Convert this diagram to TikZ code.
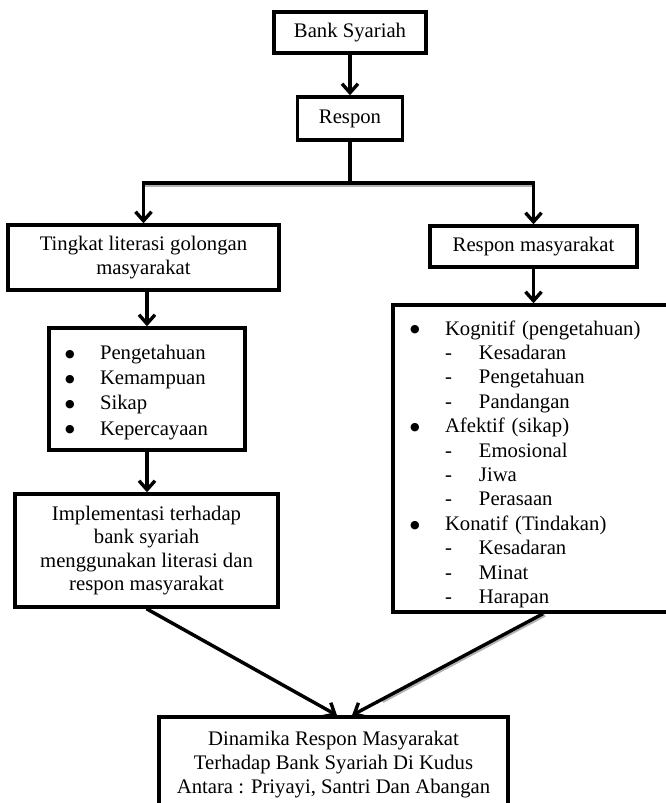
\documentclass[tikz,border=0pt]{standalone}
\usepackage{fontspec}
\setmainfont{Liberation Serif}
\newfontfamily\symfnt{DejaVu Sans}
\usetikzlibrary{arrows.meta,calc}
\newcommand\mybul{\makebox[34pt][l]{\hspace*{-1pt}\raisebox{2.3pt}{\symfnt\fontsize{11}{11}\selectfont ●}}}
\newcommand\mydash{\hspace*{34pt}\makebox[34pt][l]{-}}
\begin{document}
\begin{tikzpicture}[x=1pt,y=-1pt,
  box/.style={draw, line width=3.4pt, inner sep=0pt, align=center,
    font=\fontsize{20.7}{23.3}\selectfont},
  listbox/.style={box, align=left},
  conn/.style={line width=3.4pt, -{Straight Barb[length=9pt,width=16pt]}},
  plainline/.style={line width=3.4pt},
  shade/.style={line width=3pt, black!30}
]
\useasboundingbox (0,0) rectangle (666,803);
\clip (0,0) rectangle (666,803);

\node[box, minimum width=152pt, minimum height=41pt] (bank) at (350,32.5) {Bank Syariah};
\node[box, minimum width=105pt, minimum height=43pt] (respon) at (350,118.5) {Respon};
\node[box, minimum width=271pt, minimum height=65pt] (tingkat) at (143.5,257.5)
  {Tingkat literasi golongan\\masyarakat};
\node[box, minimum width=207pt, minimum height=41pt] (resmas) at (533.5,246.5) {Respon masyarakat};
\node[listbox, font=\fontsize{20.7}{25.3}\selectfont, text width=162pt, inner xsep=17pt,
  minimum height=122pt] (list) at (147,389)
  {\rule{0pt}{21pt}\mybul Pengetahuan\\
   \mybul Kemampuan\\
   \mybul Sikap\\
   \mybul Kepercayaan};
\node[box, minimum width=263pt, minimum height=113pt] (impl) at (146.5,550.5)
  {Implementasi terhadap\\bank syariah\\menggunakan literasi dan\\respon masyarakat};
\node[listbox, font=\fontsize{20.7}{24.4}\selectfont, text width=256pt, inner xsep=18pt,
  minimum height=307pt] (big) at (539,458.5)
  {\rule{0pt}{26pt}\mybul Kognitif (pengetahuan)\\
   \mydash Kesadaran\\
   \mydash Pengetahuan\\
   \mydash Pandangan\\
   \mybul Afektif (sikap)\\
   \mydash Emosional\\
   \mydash Jiwa\\
   \mydash Perasaan\\
   \mybul Konatif (Tindakan)\\
   \mydash Kesadaran\\
   \mydash Minat\\
   \mydash Harapan};
\node[box, font=\fontsize{20.7}{24.2}\selectfont, minimum width=349pt, minimum height=95pt]
  (final) at (333.5,764.5)
  {Dinamika Respon Masyarakat\\Terhadap Bank Syariah Di Kudus\\Antara : Priyayi, Santri Dan Abangan};

\coordinate (split) at (350,183);

% shadows
\draw[shade] ([shift={(1.5pt,-2.2pt)}]tingkat.north |- split) -- ([shift={(1.5pt,-2.2pt)}]resmas.north |- split);
\draw[shade] ($(impl.south)+(2pt,-1.5pt)$) -- ($(impl.south)!0.85!([xshift=3.5pt]final.north)+(2pt,-1.5pt)$);
\draw[shade] ($(big.south)+(6pt,-1.5pt)$) -- ($([xshift=4pt]big.south)!0.85!([xshift=18.5pt]final.north)+(2pt,-1.5pt)$);

% connectors
\draw[conn] (bank.south) -- (respon.north);
\draw[plainline] (respon.south) -- (split);
\draw[conn] (split) -| (tingkat.north);
\draw[conn] (split) -| (resmas.north);
\draw[conn] (list.north |- tingkat.south) -- (list.north);
\draw[conn] (list.south) -- (list.south |- impl.north);
\draw[conn] (resmas.south) -- (resmas.south |- big.north);
\draw[conn] (impl.south) -- ([xshift=3.5pt]final.north);
\draw[conn] ([xshift=4pt]big.south) -- ([xshift=18.5pt]final.north);
\end{tikzpicture}
\end{document}
